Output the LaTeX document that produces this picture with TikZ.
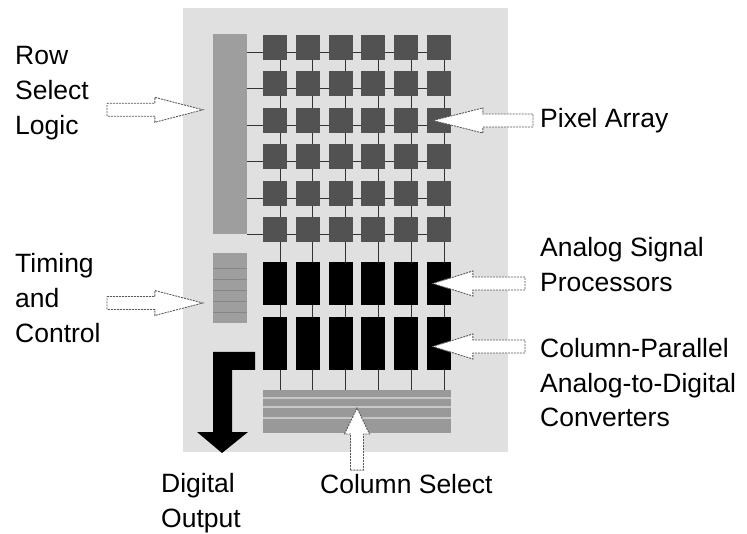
\documentclass[tikz,border=0pt]{standalone}
\usepackage{fontspec}
\setmainfont{Liberation Sans}
\usetikzlibrary{calc}
\tikzset{
  chip/.style={fill=black!12, draw=none},
  logicbar/.style={fill=black!38, draw=none, inner sep=0pt, minimum width=34pt},
  pixel/.style={fill=black!68, draw=none, inner sep=0pt, minimum width=24pt, minimum height=25pt},
  procbox/.style={fill=black, draw=none, inner sep=0pt, minimum width=24pt},
  wire/.style={black!80, line width=0.9pt},
  stripe/.style={black!22, line width=1.2pt},
  lbl/.style={font=\fontsize{26.5}{35}\selectfont, align=left, anchor=base west, inner sep=0pt},
  hollow/.style={draw=black!65, fill=white, line width=0.9pt, dash pattern=on 2pt off 1pt, line join=miter},
  outarrow/.style={fill=black, draw=none},
}
% outlined block arrow: [head length]{tail}{tip}
\newcommand{\hollowarrow}[3][40pt]{%
  \coordinate (hb) at ($(#3)!#1!(#2)$);
  \draw[hollow] ($(#2)!6.5pt!90:(#3)$) -- ($(hb)!6.5pt!90:(#3)$) -- ($(hb)!12.5pt!90:(#3)$)
    -- (#3) -- ($(hb)!12.5pt!-90:(#3)$) -- ($(hb)!6.5pt!-90:(#3)$) -- ($(#2)!6.5pt!-90:(#3)$) -- cycle;}

\begin{document}
\begin{tikzpicture}[x=1pt, y=-1pt]
  \useasboundingbox (0,0) rectangle (747,534);
  % die
  \fill[chip] (183,8) rectangle (508,452);
  \node[logicbar, minimum height=200pt] (rowsel) at (230,134) {};
  \node[logicbar, minimum height=70pt] (timing) at (230,288) {};
  \foreach \y in {268,279,290,301,312} \draw[black!48, line width=0.8pt] (213,\y) -- (247,\y);
  % wires
  \foreach \i in {0,...,5} \draw[wire] (280+32.8*\i,47) -- (280+32.8*\i,390);
  \foreach \j in {0,...,5} \draw[wire] (247,52+36.5*\j) -- (451,52+36.5*\j);
  % pixel array
  \foreach \i in {1,...,6}
    \foreach \j in {1,...,6}
      \node[pixel] (px-\i-\j) at (242.2+32.8*\i,11+36.5*\j) {};
  % column processors
  \foreach \i in {1,...,6} {
    \node[procbox, minimum height=43pt] (asp-\i) at (242.2+32.8*\i,283.5) {};
    \node[procbox, minimum height=53pt] (adc-\i) at (242.2+32.8*\i,343.5) {};
  }
  \node[fill=black!40, inner sep=0pt, minimum width=188pt, minimum height=43pt] (colsel) at (357,411.5) {};
  \foreach \y in {398,407,418} \draw[stripe] (263,\y) -- (451,\y);
  % digital output
  \fill[outarrow] (255,352) -- (213,352) -- (213,432) -- (197,432) -- (222,453)
    -- (248,432) -- (232,432) -- (232,370) -- (255,370) -- cycle;
  % labels (base = last line)
  \node[lbl] (rowlbl) at (15,135) {Row\\Select\\Logic};
  \node[lbl] (timelbl) at (15,343) {Timing\\and\\Control};
  \node[lbl] (pixlbl) at (540,128) {Pixel Array};
  \node[lbl] (asplbl) at (540,292) {Analog Signal\\Processors};
  \node[lbl] (adclbl) at (540,427) {Column-Parallel\\Analog-to-Digital\\Converters};
  \node[lbl] (outlbl) at (161,527) {Digital\\Output};
  \node[lbl] (sellbl) at (320,493) {Column Select};
  % callout arrows
  \coordinate (rs-tip) at ($(rowsel.north west)+(-10,76)$);
  \coordinate (rs-tail) at ($(rs-tip -| rowlbl.west)+(92,0)$);
  \coordinate (tc-tip) at ($(timing.west)+(-10,15)$);
  \coordinate (tc-tail) at ($(tc-tip -| timelbl.west)+(92,0)$);
  \coordinate (pa-tip) at ($(px-6-3.west)+(6,0)$);
  \coordinate (pa-tail) at ($(pa-tip -| pixlbl.west)+(-7,0)$);
  \coordinate (asp-tip) at ($(asp-6.west)+(6,0)$);
  \coordinate (asp-tail) at ($(asp-tip -| asplbl.west)+(-15,0)$);
  \coordinate (adc-tip) at ($(adc-6.west)+(6,3)$);
  \coordinate (adc-tail) at ($(adc-tip -| adclbl.west)+(-15,0)$);
  \coordinate (cs-tip) at ($(colsel.center)+(0,-3.5)$);
  \coordinate (cs-tail) at ($(cs-tip |- sellbl.north)+(0,-3.5)$);
  \hollowarrow[48pt]{rs-tail}{rs-tip}
  \hollowarrow[48pt]{tc-tail}{tc-tip}
  \hollowarrow[50pt]{pa-tail}{pa-tip}
  \hollowarrow{asp-tail}{asp-tip}
  \hollowarrow{adc-tail}{adc-tip}
  \hollowarrow[26pt]{cs-tail}{cs-tip}
\end{tikzpicture}
\end{document}
